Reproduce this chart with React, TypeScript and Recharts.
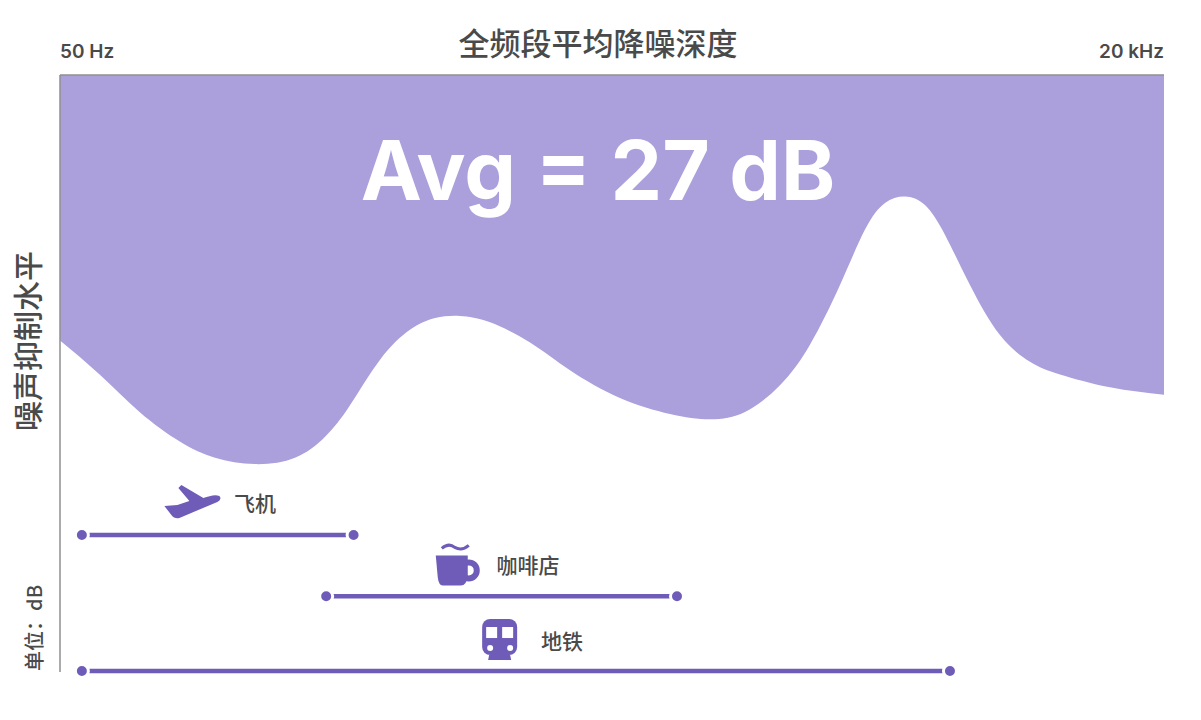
import React from "react";
import { ComposedChart, Area, Line, XAxis, YAxis, ReferenceDot } from "recharts";

// frequency in Hz (log axis), depth in dB measured down from the top of the plot
const curveHz = [50, 62, 77, 96, 116, 144, 179, 211, 241, 284, 334, 383, 438, 516, 641, 796, 1044, 1370, 1702, 2058, 2488, 2928, 3446, 3947, 4400, 4905, 5466, 6095, 6978, 8212, 9665, 11375, 14920, 20000];
const curveDepth = [24.9, 28.1, 31.6, 34.4, 35.9, 36.5, 35.9, 33.9, 31.0, 26.7, 23.9, 22.8, 22.6, 23.2, 25.1, 27.7, 30.3, 31.8, 32.3, 31.6, 29.1, 25.3, 19.7, 14.5, 12.0, 11.4, 12.2, 15.0, 19.7, 24.4, 26.9, 28.1, 29.3, 30.0];

const planeRange = [56.3, 246];
const cafeRange = [212, 1423];
const metroRange = [56.3, 6260];
const rangeDepths = [43.15, 48.9, 55.9];

const ends = [50, 20000];
const PURPLE = "#6f5cb8";
const AREA = "#ab9fdc";
const TEXT = "#4a4a4a";
const CJK = '"Noto Sans CJK SC", "Noto Sans", sans-serif';

const curve = curveHz.map((hz, i) => ({ hz, depth: curveDepth[i] }));
const toLine = (range: number[], depth: number) => range.map((hz) => ({ hz, depth }));

const EndDot = (props: any) => (
  <circle cx={props.cx} cy={props.cy} r={6.5} fill={PURPLE} stroke="#fff" strokeWidth={3} />
);

const Plane = ({ cx, cy }: any) => (
  <path
    transform={`translate(${cx},${cy})`}
    d="M28 -6 C24 -8 18 -6 12 -4 L-10 -17 L-13 -14 L-2 -1 L-14 3 L-27 4 L-20 13 Q-17 17 -12 16 L26 0 Q31 -3 28 -6 Z"
    fill={PURPLE}
  />
);

const Cup = ({ cx, cy }: any) => (
  <g transform={`translate(${cx},${cy})`}>
    <circle cx={11} cy={5} r={8} fill="none" stroke={PURPLE} strokeWidth={6} />
    <path d="M-22 -10 L10 -10 L10 10 Q9 20 3 20 L-15 20 Q-19 20 -20 12 Z" fill={PURPLE} />
    <path d="M-16 -17 Q-9 -23 -3 -18 Q4 -14 11 -20" fill="none" stroke={PURPLE} strokeWidth={3} />
  </g>
);

const Metro = ({ cx, cy }: any) => (
  <g transform={`translate(${cx},${cy})`}>
    <rect x={-17} y={-21} width={35} height={36} rx={8} fill={PURPLE} />
    <rect x={-13} y={-13} width={11} height={11} fill="#fff" />
    <rect x={3} y={-13} width={11} height={11} fill="#fff" />
    <circle cx={-9} cy={8} r={3} fill="#fff" />
    <circle cx={11} cy={8} r={3} fill="#fff" />
    <path d="M-10 15 L11 15 L12 20 L-11 20 Z" fill={PURPLE} />
  </g>
);

const EndTick = ({ x, y, payload }: any) => (
  <text
    x={x}
    y={y - 9}
    textAnchor={payload.value === ends[0] ? "start" : "end"}
    fontFamily="Inter, sans-serif"
    fontWeight={600}
    fontSize={19}
    fill={TEXT}
  >
    {payload.value === ends[0] ? "50 Hz" : "20 kHz"}
  </text>
);

const rangeLabel = (value: string) => ({
  value,
  position: "center" as const,
  fontFamily: CJK,
  fontWeight: 500,
  fontSize: 21,
  fill: TEXT,
});

export default function App() {
  return (
    <div style={{ position: "absolute", left: 0, top: 0, width: 1201, height: 720, background: "#fff" }}>
      <ComposedChart width={1201} height={720} margin={{ top: 45, right: 37, bottom: 48, left: 0 }}>
        <XAxis
          xAxisId={0}
          type="number"
          dataKey="hz"
          scale="log"
          domain={ends}
          ticks={ends}
          orientation="top"
          height={30}
          tick={<EndTick />}
          tickLine={false}
          axisLine={{ stroke: "#8f8f8f", strokeWidth: 1.5 }}
          allowDataOverflow
        />
        <YAxis
          type="number"
          domain={[0, 56]}
          reversed
          width={60}
          tick={false}
          tickLine={false}
          axisLine={{ stroke: "#8f8f8f", strokeWidth: 1.5 }}
        />
        <Area
          data={curve}
          dataKey="depth"
          type="natural"
          baseValue={0}
          fill={AREA}
          fillOpacity={1}
          stroke="none"
          isAnimationActive={false}
        />
        <Line data={toLine(planeRange, rangeDepths[0])} dataKey="depth" stroke={PURPLE} strokeWidth={4.5} dot={<EndDot />} isAnimationActive={false} />
        <Line data={toLine(cafeRange, rangeDepths[1])} dataKey="depth" stroke={PURPLE} strokeWidth={4.5} dot={<EndDot />} isAnimationActive={false} />
        <Line data={toLine(metroRange, rangeDepths[2])} dataKey="depth" stroke={PURPLE} strokeWidth={4.5} dot={<EndDot />} isAnimationActive={false} />

        <ReferenceDot x={102} y={40.05} shape={<Plane />} />
        <ReferenceDot x={144} y={40.2} r={0} stroke="none" label={rangeLabel("飞机")} />
        <ReferenceDot x={433} y={46} shape={<Cup />} />
        <ReferenceDot x={634} y={46} r={0} stroke="none" label={rangeLabel("咖啡店")} />
        <ReferenceDot x={542} y={53} shape={<Metro />} />
        <ReferenceDot x={762} y={53.1} r={0} stroke="none" label={rangeLabel("地铁")} />
        <ReferenceDot
          x={927}
          y={9}
          r={0}
          stroke="none"
          label={{
            value: "Avg = 27 dB",
            position: "center",
            fontFamily: "Inter, sans-serif",
            fontWeight: 700,
            fontSize: 82,
            fill: "#fff",
          }}
        />

        <text x={598} y={55} textAnchor="middle" fontFamily={CJK} fontWeight={500} fontSize={31} fill={TEXT}>
          全频段平均降噪深度
        </text>
        <text transform="translate(39,341) rotate(-90)" textAnchor="middle" fontFamily={CJK} fontWeight={500} fontSize={30} fill={TEXT}>
          噪声抑制水平
        </text>
        <text transform="translate(42,628) rotate(-90)" textAnchor="middle" fontFamily={CJK} fontWeight={500} fontSize={20} fill={TEXT}>
          单位：dB
        </text>
      </ComposedChart>
    </div>
  );
}
